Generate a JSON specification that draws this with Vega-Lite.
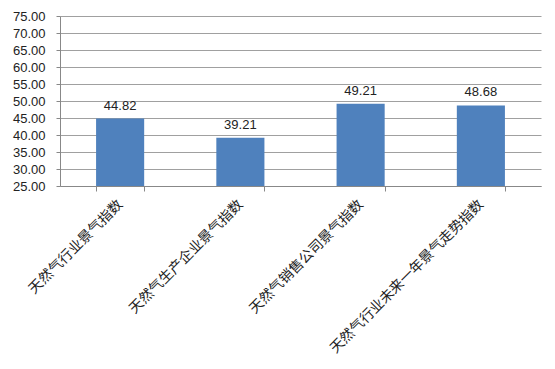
{
  "$schema": "https://vega.github.io/schema/vega-lite/v6.json",
  "autosize": {"type": "none"},
  "width": 481,
  "height": 170,
  "padding": {"left": 60, "top": 16, "right": 14, "bottom": 183},
  "background": "white",
  "data": {"values": [
    {"name": "天然气行业景气指数", "value": 44.82},
    {"name": "天然气生产企业景气指数", "value": 39.21},
    {"name": "天然气销售公司景气指数", "value": 49.21},
    {"name": "天然气行业未来一年景气走势指数", "value": 48.68}
  ]},
  "config": {
    "view": {"stroke": null},
    "axis": {"labelFont": "Liberation Sans", "labelColor": "#222", "domainColor": "#888", "tickColor": "#888", "gridColor": "#a0a0a0", "title": null}
  },
  "encoding": {
    "x": {"field": "name", "type": "nominal", "sort": null,
      "scale": {"paddingInner": 0.6, "paddingOuter": 0.3},
      "axis": {"labelAngle": -45, "labelAlign": "right", "labelBaseline": "middle", "labelFont": "Noto Sans CJK SC", "labelFontSize": 14, "labelPadding": 11, "tickBand": "extent", "tickSize": 5, "labelLimit": 300, "labelOverlap": false}},
    "y": {"field": "value", "type": "quantitative",
      "scale": {"domain": [25, 75], "zero": false, "nice": false},
      "axis": {"values": [25, 30, 35, 40, 45, 50, 55, 60, 65, 70, 75], "tickCount": 11, "format": ".2f", "labelFontSize": 13, "tickSize": 4, "labelPadding": 11, "grid": true, "labelOverlap": false, "labelBound": false}}
  },
  "layer": [
    {
      "mark": {"type": "bar", "color": "#4F81BD"},
      "encoding": {
        "y2": {"datum": 25}
      }
    },
    {
      "mark": {"type": "text", "baseline": "bottom", "dy": -6, "font": "Liberation Sans", "fontSize": 13, "color": "#222"},
      "encoding": {
        "text": {"field": "value", "type": "quantitative", "format": ".2f"}
      }
    }
  ]
}
